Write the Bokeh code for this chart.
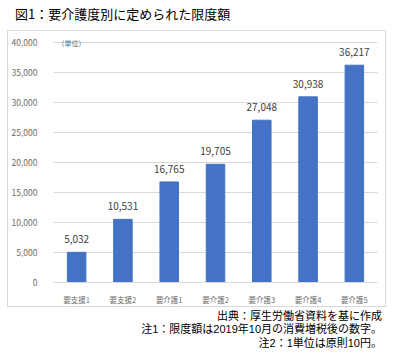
from bokeh.plotting import figure
from bokeh.models import ColumnDataSource, LabelSet, Label, Div, NumeralTickFormatter
from bokeh.layouts import column
from bokeh.core.properties import value
from bokeh.embed import file_html
from bokeh.resources import INLINE

categories = ["要支援1", "要支援2", "要介護1", "要介護2", "要介護3", "要介護4", "要介護5"]
values = [5032, 10531, 16765, 19705, 27048, 30938, 36217]
y_ticks = [0, 5000, 10000, 15000, 20000, 25000, 30000, 35000, 40000]
title_text = "図1：要介護度別に定められた限度額"
unit_text = "（単位）"
notes = ["出典：厚生労働省資料を基に作成",
         "注1：限度額は2019年10月の消費増税後の数字。",
         "注2：1単位は原則10円。"]

FONT = "Noto Sans CJK JP"

src = ColumnDataSource(dict(cat=categories, val=values,
                            lab=[f"{v:,}" for v in values]))

title_div = Div(text=title_text, width=400, height=30, margin=0,
                styles={"font-family": FONT, "font-size": "13px",
                        "line-height": "28px", "padding-left": "15px",
                        "color": "#000000", "white-space": "nowrap"})

p = figure(x_range=categories, y_range=(0, 41000), width=379, height=277,
           output_backend="svg", toolbar_location=None,
           min_border_left=40, min_border_right=10,
           min_border_top=5, min_border_bottom=26,
           margin=(0, 0, 0, 7),
           styles={"border": "1px solid #d9d9d9"})
p.outline_line_color = None
p.background_fill_color = "white"
p.border_fill_color = "white"

p.vbar(x="cat", top="val", width=0.4, source=src, color="#4472C4")

p.add_layout(LabelSet(x="cat", y="val", text="lab", source=src,
                      text_align="center", text_baseline="middle",
                      y_offset=13, text_font_size="10px", text_color="#404040",
                      text_font=value(FONT)))

p.xgrid.grid_line_color = None
p.ygrid.grid_line_color = "#d9d9d9"
p.ygrid.grid_line_width = 1

p.yaxis.ticker = y_ticks
p.yaxis.formatter = NumeralTickFormatter(format="0,0")
p.yaxis.axis_line_color = None
p.yaxis.major_tick_line_color = None
p.yaxis.minor_tick_line_color = None
p.yaxis.major_label_text_font_size = "8.5px"
p.yaxis.major_label_text_color = "#6b6b6b"
p.yaxis.major_label_text_font = FONT
p.yaxis.major_label_standoff = 10

p.xaxis.axis_line_color = "#d9d9d9"
p.xaxis.major_tick_line_color = None
p.xaxis.minor_tick_line_color = None
p.xaxis.major_label_text_font_size = "7.5px"
p.xaxis.major_label_text_color = "#6b6b6b"
p.xaxis.major_label_text_font = FONT
p.xaxis.major_label_standoff = 5

p.x_range.range_padding = 0

p.add_layout(Label(x=4, y=240, x_units="screen", y_units="screen",
                   text=unit_text, text_font=FONT, text_font_size="7px",
                   text_color="#6b6b6b", text_baseline="middle", text_align="left"))

notes_html = "".join(f"<div>{t}</div>" for t in notes)
notes_div = Div(text=notes_html, width=400, height=53, margin=0,
                styles={"font-family": "'Liberation Sans', 'Noto Sans CJK JP'",
                        "font-size": "11px",
                        "line-height": "13.3px", "padding-top": "3px",
                        "padding-right": "18px", "text-align": "right",
                        "color": "#000000", "box-sizing": "border-box",
                        "white-space": "nowrap"})

layout = column(title_div, p, notes_div, spacing=0)

open("out.html", "w").write(file_html(layout, INLINE))
